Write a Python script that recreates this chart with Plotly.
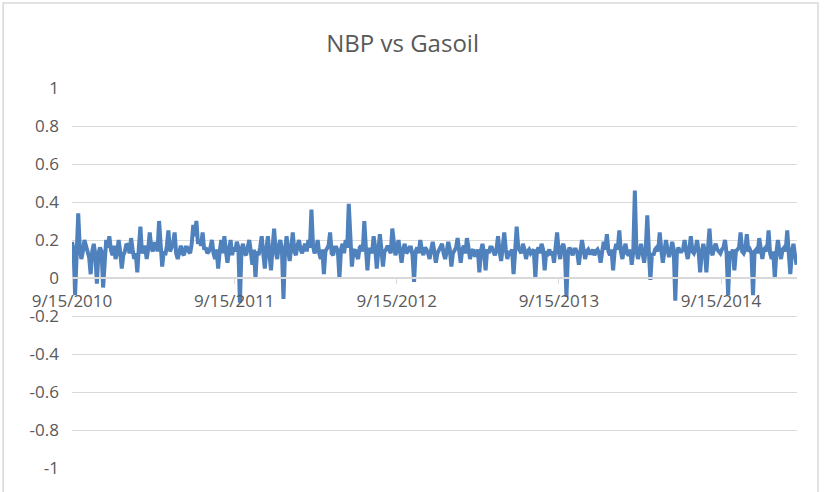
import pandas as pd
import plotly.graph_objects as go

# twice-weekly spread readings, NBP vs Gasoil
start = '2010-09-15'
spread = [
    0.19, 0.15, -0.09, 0.12, 0.34, 0.16, 0.10, 0.14, 0.20, 0.17,
    0.13, 0.11, 0.02, 0.14, 0.18, 0.12, -0.03, 0.13, 0.16, 0.14,
    -0.05, 0.12, 0.20, 0.16, 0.22, 0.15, 0.12, 0.17, 0.10, 0.13,
    0.20, 0.14, 0.05, 0.12, 0.14, 0.18, 0.17, 0.13, 0.21, 0.15,
    0.10, 0.13, 0.03, 0.16, 0.27, 0.13, 0.15, 0.17, 0.10, 0.15,
    0.24, 0.16, 0.14, 0.18, 0.18, 0.14, 0.30, 0.17, 0.06, 0.14,
    0.12, 0.17, 0.25, 0.14, 0.16, 0.18, 0.24, 0.13, 0.10, 0.15,
    0.17, 0.13, 0.12, 0.16, 0.16, 0.14, 0.13, 0.18, 0.28, 0.22,
    0.30, 0.18, 0.20, 0.17, 0.24, 0.15, 0.16, 0.13, 0.14, 0.16,
    0.20, 0.13, 0.10, 0.15, 0.05, 0.14, 0.20, 0.13, 0.22, 0.14,
    0.08, 0.15, 0.20, 0.12, 0.16, 0.14, 0.19, 0.16, -0.13, 0.15,
    0.18, 0.13, 0.12, 0.16, 0.20, 0.14, 0.07, 0.15, 0.00, 0.14,
    0.12, 0.16, 0.22, 0.13, 0.05, 0.15, 0.22, 0.12, 0.04, 0.16,
    0.26, 0.14, 0.10, 0.17, 0.20, 0.15, -0.11, 0.14, 0.22, 0.15,
    0.09, 0.16, 0.24, 0.14, 0.12, 0.17, 0.20, 0.15, 0.13, 0.16,
    0.18, 0.14, 0.20, 0.16, 0.36, 0.17, 0.13, 0.15, 0.20, 0.13,
    0.10, 0.15, 0.02, 0.14, 0.16, 0.17, 0.24, 0.13, 0.12, 0.16,
    0.16, 0.14, 0.00, 0.15, 0.18, 0.13, 0.20, 0.16, 0.39, 0.17,
    0.06, 0.14, 0.15, 0.12, 0.10, 0.16, 0.17, 0.14, 0.30, 0.16,
    0.04, 0.15, 0.15, 0.13, 0.22, 0.16, 0.05, 0.14, 0.23, 0.15,
    0.06, 0.14, 0.15, 0.17, 0.14, 0.13, 0.26, 0.16, 0.12, 0.15,
    0.20, 0.14, 0.08, 0.15, 0.18, 0.13, 0.14, 0.16, 0.16, 0.12,
    -0.02, 0.14, 0.16, 0.13, 0.20, 0.15, 0.12, 0.16, 0.15, 0.13,
    0.10, 0.15, 0.19, 0.14, 0.08, 0.13, 0.15, 0.16, 0.18, 0.13,
    0.10, 0.14, 0.19, 0.15, 0.06, 0.13, 0.15, 0.16, 0.21, 0.14,
    0.08, 0.15, 0.17, 0.13, 0.21, 0.16, 0.10, 0.14, 0.15, 0.12,
    0.12, 0.15, 0.03, 0.14, 0.18, 0.13, 0.04, 0.15, 0.13, 0.16,
    0.16, 0.14, 0.12, 0.15, 0.22, 0.14, 0.09, 0.16, 0.24, 0.15,
    0.10, 0.14, 0.13, 0.15, 0.02, 0.14, 0.27, 0.16, 0.14, 0.13,
    0.18, 0.15, 0.10, 0.14, 0.15, 0.13, 0.14, 0.15, 0.00, 0.14,
    0.16, 0.13, 0.18, 0.15, 0.04, 0.14, 0.13, 0.15, 0.12, 0.14,
    0.08, 0.15, 0.24, 0.14, 0.10, 0.16, 0.18, 0.14, -0.10, 0.13,
    0.16, 0.14, 0.12, 0.15, 0.15, 0.13, 0.07, 0.14, 0.20, 0.15,
    0.10, 0.14, 0.15, 0.13, 0.13, 0.15, 0.12, 0.14, 0.15, 0.13,
    0.08, 0.14, 0.19, 0.15, 0.23, 0.14, 0.12, 0.15, 0.04, 0.14,
    0.18, 0.15, 0.25, 0.14, 0.10, 0.15, 0.18, 0.13, 0.12, 0.15,
    0.07, 0.14, 0.46, 0.15, 0.10, 0.14, 0.18, 0.13, 0.08, 0.15,
    0.33, 0.14, -0.01, 0.13, 0.12, 0.15, 0.16, 0.14, 0.24, 0.15,
    0.08, 0.14, 0.20, 0.15, 0.11, 0.14, 0.19, 0.15, -0.12, 0.13,
    0.16, 0.14, 0.14, 0.15, 0.20, 0.14, 0.10, 0.15, 0.22, 0.14,
    0.13, 0.15, 0.20, 0.14, 0.03, 0.13, 0.18, 0.14, 0.03, 0.15,
    0.26, 0.14, 0.12, 0.16, 0.18, 0.15, 0.14, 0.13, 0.15, 0.16,
    0.20, 0.13, -0.09, 0.14, 0.12, 0.15, 0.04, 0.14, 0.15, 0.16,
    0.24, 0.14, 0.13, 0.15, 0.23, 0.14, 0.15, 0.13, -0.09, 0.14,
    0.15, 0.13, 0.21, 0.14, 0.10, 0.15, 0.16, 0.14, 0.25, 0.13,
    0.10, 0.14, 0.00, 0.13, 0.20, 0.14, 0.10, 0.15, 0.16, 0.14,
    0.25, 0.13, 0.02, 0.14, 0.18, 0.12, 0.07,
]
dates = pd.date_range(start, periods=len(spread), freq='84h')

tick_dates = ['2010-09-15', '2011-09-15', '2012-09-15', '2013-09-15', '2014-09-15']
tick_labels = ['9/15/2010', '9/15/2011', '9/15/2012', '9/15/2013', '9/15/2014']
y_ticks = [1, 0.8, 0.6, 0.4, 0.2, 0, -0.2, -0.4, -0.6, -0.8, -1]
y_labels = ['1', '0.8', '0.6', '0.4', '0.2', '0', '-0.2', '-0.4', '-0.6', '-0.8', '-1']

grey = '#595959'
grid = '#d9d9d9'
font = 'Open Sans'

fig = go.Figure()
fig.add_trace(go.Scatter(x=dates, y=spread, mode='lines',
                         line=dict(color='#4F81BD', width=4)))

fig.update_layout(
    width=825, height=492,
    margin=dict(l=72, r=28, t=88, b=24),
    paper_bgcolor='white', plot_bgcolor='white',
    showlegend=False,
    font=dict(family=font, size=17, color=grey),
    title=dict(text='NBP vs Gasoil', x=0.488, xref='container', xanchor='center',
               y=0.912, yref='container', yanchor='middle',
               font=dict(family=font, size=24, color=grey)),
)

fig.update_xaxes(
    type='date', range=['2010-09-15', '2015-03-05'],
    anchor='free', position=0.5,
    showgrid=False, showline=True, linecolor=grid, linewidth=1.5,
    ticks='outside', ticklen=5, tickcolor=grid,
    tickvals=tick_dates, ticktext=tick_labels,
    ticklabelstandoff=3, automargin=False,
)
fig.update_yaxes(
    range=[-1, 1], tickvals=y_ticks, ticktext=y_labels,
    showgrid=True, gridcolor=grid, gridwidth=1,
    zeroline=False, showline=False,
    ticklabelstandoff=12, automargin=False,
)

# outer chart border
fig.add_shape(type='rect', xref='paper', yref='paper',
              x0=-0.095, x1=1.029, y0=-0.1, y1=1.224,
              line=dict(color=grid, width=1.5))

# drop the browser's default page margin so the chart sits at the top-left
fig.write_html('out.html', config={'displayModeBar': False},
               post_script="document.body.style.margin='0px';")
